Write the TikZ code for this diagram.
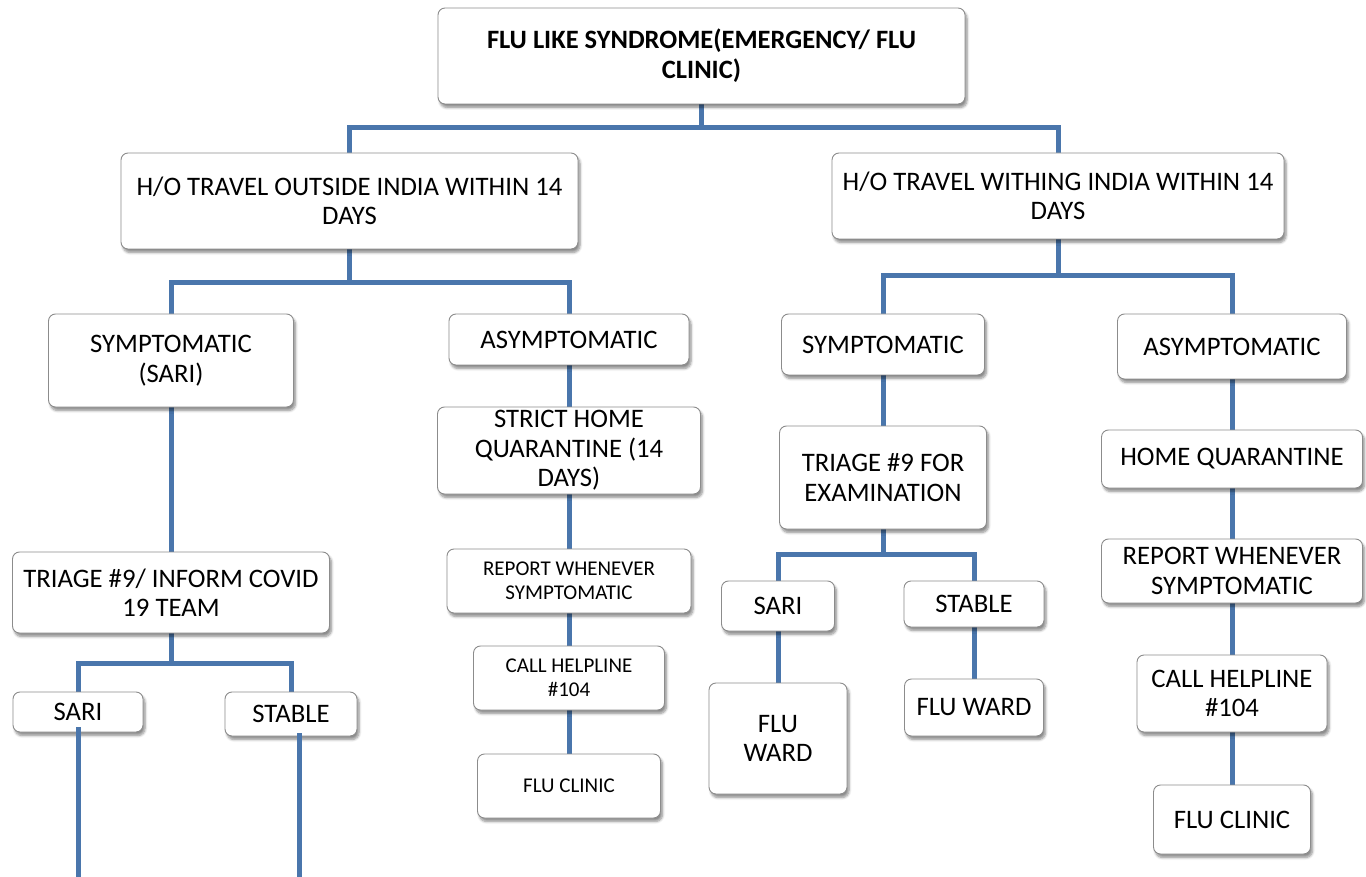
\documentclass[tikz,border=0pt]{standalone}
\usepackage{fontspec}
\setmainfont{Carlito}
\usetikzlibrary{shadows.blur,backgrounds}
\definecolor{linkblue}{RGB}{74,118,172}
\tikzset{
  flowbox/.style={
    draw=black!45, line width=0.9pt, rounded corners=7pt, fill=white,
    align=center, inner sep=2pt,
    font=\fontsize{26.7}{29.5}\selectfont,
    blur shadow={shadow xshift=2pt, shadow yshift=-3.5pt, shadow blur radius=2.5pt, shadow blur steps=6, shadow opacity=45}
  },
  smallbox/.style={flowbox, font=\fontsize{21}{24}\selectfont},
  link/.style={draw=linkblue, line width=5pt}
}

\begin{document}
\begin{tikzpicture}[x=1pt,y=-1pt]
\useasboundingbox (0,0) rectangle (1366,877);
% top and first split
\node[flowbox, minimum width=527, minimum height=96, font=\fontsize{26.5}{30}\selectfont\bfseries] (flu) at (701.5,56) {FLU LIKE SYNDROME(EMERGENCY/ FLU\\CLINIC)};
\node[flowbox, minimum width=457, minimum height=96] (outL) at (349.5,201) {H/O TRAVEL OUTSIDE INDIA WITHIN 14\\DAYS};
\node[flowbox, minimum width=452, minimum height=86] (inR) at (1058,196) {H/O TRAVEL WITHING INDIA WITHIN 14\\DAYS};
% outside india
\node[flowbox, minimum width=245, minimum height=93] (symL) at (171,360.5) {SYMPTOMATIC\\(SARI)};
\node[flowbox, minimum width=317, minimum height=81] (triL) at (171,592.5) {TRIAGE \#9/ INFORM COVID\\19 TEAM};
\node[flowbox, minimum width=130, minimum height=40] (sariL) at (78,712) {SARI};
\node[flowbox, minimum width=132, minimum height=44] (stabL) at (291,714) {STABLE};
\node[flowbox, minimum width=240, minimum height=51] (asymL) at (569,339.5) {ASYMPTOMATIC};
\node[flowbox, minimum width=263, minimum height=87, inner sep=0pt] (strictL) at (569,450.5) {STRICT HOME\\QUARANTINE (14\\DAYS)};
\node[smallbox, minimum width=244, minimum height=64] (reportL) at (569,581) {REPORT WHENEVER\\SYMPTOMATIC};
\node[smallbox, minimum width=191, minimum height=64] (callL) at (569,678) {CALL HELPLINE\\\#104};
\node[smallbox, minimum width=183, minimum height=64] (clinicL) at (569,786) {FLU CLINIC};
% within india
\node[flowbox, minimum width=203, minimum height=61] (symR) at (883,344.5) {SYMPTOMATIC};
\node[flowbox, minimum width=207, minimum height=103] (triR) at (883,477.5) {TRIAGE \#9 FOR\\EXAMINATION};
\node[flowbox, minimum width=113, minimum height=50] (sariR) at (778,606) {SARI};
\node[flowbox, minimum width=140, minimum height=46] (stabR) at (974,604) {STABLE};
\node[flowbox, minimum width=138, minimum height=111] (wardA) at (778,738.5) {FLU\\WARD};
\node[flowbox, minimum width=139, minimum height=57] (wardB) at (974,707.5) {FLU WARD};
\node[flowbox, minimum width=229, minimum height=65] (asymR) at (1232,346.5) {ASYMPTOMATIC};
\node[flowbox, minimum width=261, minimum height=58] (homeR) at (1232,459) {HOME QUARANTINE};
\node[flowbox, minimum width=261, minimum height=64] (reportR) at (1232,571) {REPORT WHENEVER\\SYMPTOMATIC};
\node[flowbox, minimum width=190, minimum height=77] (callR) at (1232,693.5) {CALL HELPLINE\\\#104};
\node[flowbox, minimum width=157, minimum height=69] (clinicR) at (1232,819.5) {FLU CLINIC};
% joints
\coordinate (j0) at (701.5,128);
\coordinate (j1) at (349.5,283);
\coordinate (j2) at (1058,276);
\coordinate (j3) at (171,663);
\coordinate (j4) at (883,554);
\coordinate (endA) at (78,877);
\coordinate (endB) at (299,877);
\begin{scope}[on background layer]
\draw[link] (flu.south) -- (j0);
\draw[link] (outL.north) |- (j0) -| (inR.north);
\draw[link] (outL.south) -- (j1);
\draw[link] (symL.north) |- (j1) -| (asymL.north);
\draw[link] (inR.south) -- (j2);
\draw[link] (symR.north) |- (j2) -| (asymR.north);
\draw[link] (symL) -- (triL);
\draw[link] (triL.south) -- (j3);
\draw[link] (sariL.north) |- (j3) -| (stabL.north);
\draw[link] (asymL) -- (strictL) -- (reportL) -- (callL) -- (clinicL);
\draw[link] (symR) -- (triR);
\draw[link] (triR.south) -- (j4);
\draw[link] (sariR.north) |- (j4) -| (stabR.north);
\draw[link] (sariR) -- (wardA);
\draw[link] (stabR) -- (wardB);
\draw[link] (asymR) -- (homeR) -- (reportR) -- (callR) -- (clinicR);
\end{scope}
\draw[link] ([yshift=5pt]sariL.south) -- (endA);
\draw[link] ([xshift=8pt,yshift=3pt]stabL.south) -- (endB);
\end{tikzpicture}
\end{document}
